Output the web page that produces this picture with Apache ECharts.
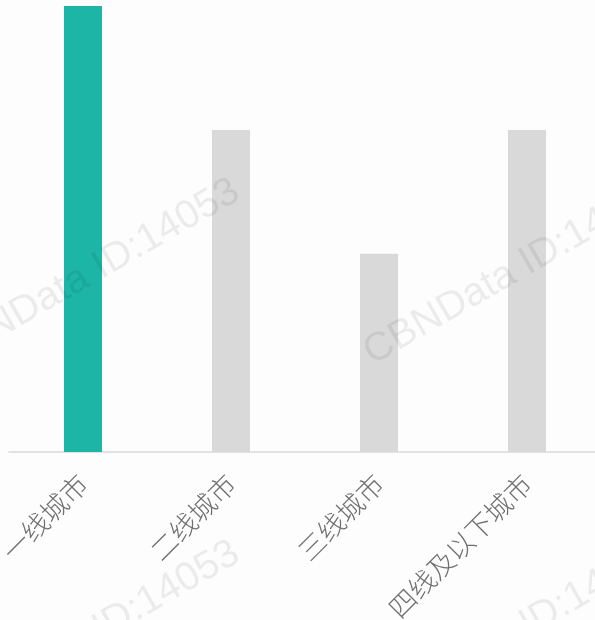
<!DOCTYPE html>
<html>
<head>
<meta charset="utf-8">
<script src="https://cdn.jsdelivr.net/npm/echarts@6/dist/echarts.min.js"></script>
<style>
html,body{margin:0;padding:0;background:#fdfdfd;}
#c{width:595px;height:620px;}
</style>
</head>
<body>
<div id="c"></div>
<script>
var categories = ['一线城市', '二线城市', '三线城市', '四线及以下城市'];
var values = [18, 13, 8, 13];
var highlightIndex = 0;

var chart = echarts.init(document.getElementById('c'), null, {renderer: 'canvas'});

var wmText = 'CBNData ID:14053';
var wmAngle = 30 * Math.PI / 180;
var wmStarts = [[-50, 377], [377, 373], [-50, 739], [377, 735]];
var graphics = wmStarts.map(function (p) {
  return {
    type: 'text',
    x: p[0], y: p[1],
    rotation: wmAngle,
    z: 100,
    silent: true,
    style: {
      text: wmText,
      fill: 'rgba(0,0,0,0.07)',
      font: '40px "Liberation Sans", Arial, sans-serif',
      textVerticalAlign: 'bottom',
      textAlign: 'left',
      shadowBlur: 2,
      shadowColor: 'rgba(0,0,0,0.05)'
    }
  };
});

chart.setOption({
  backgroundColor: '#fdfdfd',
  animation: false,
  graphic: graphics,
  grid: {left: 9, right: -6, top: 6, bottom: 168, containLabel: false, outerBoundsMode: 'none'},
  xAxis: {
    type: 'category',
    data: categories,
    axisLine: {lineStyle: {color: '#e2e2e2', width: 2}},
    axisTick: {show: false},
    axisLabel: {
      rotate: 45,
      interval: 0,
      margin: 27,
      color: '#707070',
      fontSize: 27,
      fontFamily: '"Noto Sans CJK SC", sans-serif',
      fontWeight: 300
    }
  },
  yAxis: {
    type: 'value',
    min: 0,
    max: 18,
    show: false,
    splitLine: {show: false}
  },
  series: [{
    type: 'bar',
    barWidth: 38,
    data: values.map(function (v, i) {
      return {value: v, itemStyle: {color: i === highlightIndex ? '#1db5a6' : '#d9d9d9'}};
    })
  }]
});
</script>
</body>
</html>
